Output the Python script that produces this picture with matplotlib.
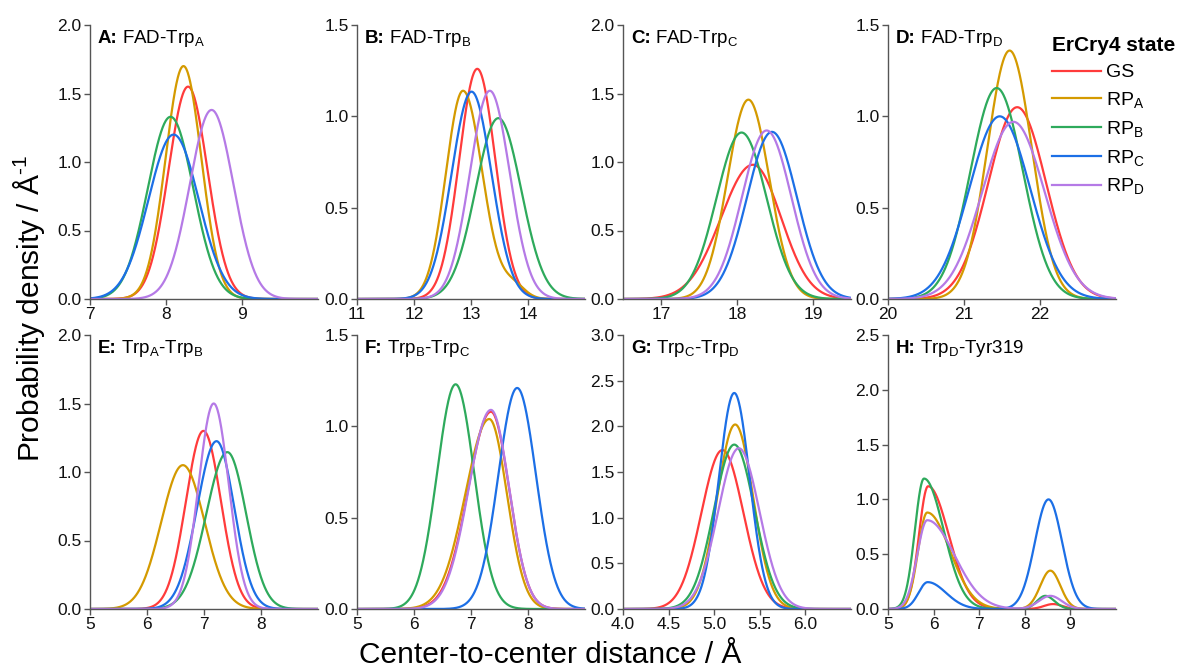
import numpy as np
from matplotlib import pyplot as plt

plt.rcParams["font.family"] = ["Liberation Sans", "DejaVu Sans"]
plt.rcParams["mathtext.fontset"] = "custom"
plt.rcParams["mathtext.rm"] = "Liberation Sans"
plt.rcParams["mathtext.it"] = "Liberation Sans:italic"
plt.rcParams["mathtext.bf"] = "Liberation Sans:bold"

# states and their colours
states = ["GS", "RP_A", "RP_B", "RP_C", "RP_D"]
state_labels = ["GS", r"RP$_\mathrm{A}$", r"RP$_\mathrm{B}$", r"RP$_\mathrm{C}$", r"RP$_\mathrm{D}$"]
colors = ["#FF3B3B", "#D49A00", "#2EAA5C", "#1C6FE6", "#B57AE6"]

# panel letters, titles, axis ranges and ticks
letters = ["A:", "B:", "C:", "D:", "E:", "F:", "G:", "H:"]
titles = [
    r"FAD-Trp$_\mathrm{A}$",
    r"FAD-Trp$_\mathrm{B}$",
    r"FAD-Trp$_\mathrm{C}$",
    r"FAD-Trp$_\mathrm{D}$",
    r"Trp$_\mathrm{A}$-Trp$_\mathrm{B}$",
    r"Trp$_\mathrm{B}$-Trp$_\mathrm{C}$",
    r"Trp$_\mathrm{C}$-Trp$_\mathrm{D}$",
    r"Trp$_\mathrm{D}$-Tyr319",
]
xlims = [(7, 10), (11, 15), (16.5, 19.5), (20, 23), (5, 9), (5, 9), (4.0, 6.5), (5, 10)]
ymaxs = [2.0, 1.5, 2.0, 1.5, 2.0, 1.5, 3.0, 2.5]
xticks = [
    [7, 8, 9],
    [11, 12, 13, 14],
    [17, 18, 19],
    [20, 21, 22],
    [5, 6, 7, 8],
    [5, 6, 7, 8],
    [4.0, 4.5, 5.0, 5.5, 6.0],
    [5, 6, 7, 8, 9],
]
xtick_fmt = ["%d", "%d", "%d", "%d", "%d", "%d", "%.1f", "%d"]

# distance distributions:
# (centre, left width, right width, peak height) for each peak
dist_A = {
    "GS": [(8.29, 0.257, 0.257, 1.55)],
    "RP_A": [(8.23, 0.235, 0.235, 1.70)],
    "RP_B": [(8.06, 0.30, 0.30, 1.33)],
    "RP_C": [(8.10, 0.33, 0.33, 1.20)],
    "RP_D": [(8.60, 0.287, 0.287, 1.38)],
}
dist_B = {
    "GS": [(13.11, 0.317, 0.317, 1.26)],
    "RP_A": [(12.86, 0.30, 0.34, 1.14), (13.75, 0.20, 0.20, 0.07)],
    "RP_B": [(13.48, 0.40, 0.40, 0.99)],
    "RP_C": [(13.01, 0.35, 0.35, 1.135)],
    "RP_D": [(13.33, 0.35, 0.35, 1.14)],
}
dist_C = {
    "GS": [(18.21, 0.42, 0.37, 0.98)],
    "RP_A": [(18.15, 0.275, 0.275, 1.455)],
    "RP_B": [(18.06, 0.33, 0.33, 1.215)],
    "RP_C": [(18.46, 0.33, 0.33, 1.22)],
    "RP_D": [(18.39, 0.325, 0.325, 1.23)],
}
dist_D = {
    "GS": [(21.70, 0.38, 0.38, 1.05)],
    "RP_A": [(21.60, 0.293, 0.293, 1.36)],
    "RP_B": [(21.43, 0.345, 0.345, 1.155)],
    "RP_C": [(21.47, 0.40, 0.40, 1.00)],
    "RP_D": [(21.65, 0.41, 0.41, 0.97)],
}
dist_E = {
    "GS": [(6.99, 0.307, 0.307, 1.30)],
    "RP_A": [(6.63, 0.38, 0.38, 1.05)],
    "RP_B": [(7.41, 0.37, 0.33, 1.145)],
    "RP_C": [(7.22, 0.34, 0.31, 1.225)],
    "RP_D": [(7.17, 0.265, 0.265, 1.50)],
}
dist_F = {
    "GS": [(7.35, 0.40, 0.32, 1.08)],
    "RP_A": [(7.32, 0.42, 0.31, 1.04)],
    "RP_B": [(6.73, 0.325, 0.325, 1.23)],
    "RP_C": [(7.81, 0.33, 0.33, 1.21)],
    "RP_D": [(7.35, 0.39, 0.32, 1.09)],
}
dist_G = {
    "GS": [(5.09, 0.23, 0.23, 1.74)],
    "RP_A": [(5.23, 0.197, 0.197, 2.02)],
    "RP_B": [(5.22, 0.222, 0.222, 1.80)],
    "RP_C": [(5.22, 0.169, 0.169, 2.365)],
    "RP_D": [(5.27, 0.227, 0.227, 1.76)],
}
dist_H = {
    "GS": [(5.88, 0.20, 0.45, 1.12), (8.62, 0.20, 0.20, 0.045)],
    "RP_A": [(5.86, 0.20, 0.50, 0.88), (8.56, 0.22, 0.22, 0.35)],
    "RP_B": [(5.79, 0.20, 0.43, 1.19), (8.45, 0.18, 0.20, 0.12)],
    "RP_C": [(5.87, 0.20, 0.40, 0.245), (8.52, 0.30, 0.30, 1.00)],
    "RP_D": [(5.86, 0.22, 0.60, 0.81), (8.56, 0.25, 0.25, 0.12)],
}
dists = [dist_A, dist_B, dist_C, dist_D, dist_E, dist_F, dist_G, dist_H]


def density(x, peaks):
    y = np.zeros_like(x)
    for mu, sl, sr, h in peaks:
        sd = np.where(x < mu, sl, sr)
        y += h * np.exp(-0.5 * ((x - mu) / sd) ** 2)
    return y


W, H = 1180, 671
fig = plt.figure(figsize=(W / 100, H / 100), dpi=100)

col_left = [90, 357, 623, 888]
row_top = [25, 335]
ax_w, ax_h = 228, 274
spine_col = "#555555"

axes = []
letter_texts = []
for i in range(8):
    r, c = divmod(i, 4)
    ax = fig.add_axes([col_left[c] / W, 1 - (row_top[r] + ax_h) / H, ax_w / W, ax_h / H])
    x = np.linspace(xlims[i][0], xlims[i][1], 800)
    for s, lab, col in zip(states, state_labels, colors):
        ax.plot(x, density(x, dists[i][s]), color=col, lw=1.6, label=lab)
    ax.set_xlim(*xlims[i])
    ax.set_ylim(0, ymaxs[i])
    ax.set_xticks(xticks[i])
    ax.set_xticklabels([xtick_fmt[i] % t for t in xticks[i]])
    yt = np.arange(0, ymaxs[i] + 0.01, 0.5)
    ax.set_yticks(yt)
    ax.set_yticklabels(["%.1f" % t for t in yt])
    for side in ["top", "right"]:
        ax.spines[side].set_visible(False)
    for side in ["left", "bottom"]:
        ax.spines[side].set_color(spine_col)
        ax.spines[side].set_linewidth(1.0)
    ax.tick_params(direction="out", length=4, width=1, color=spine_col,
                   labelsize=12.5, pad=2, labelcolor="#111111")
    t = ax.text(0.035, 0.935, letters[i], transform=ax.transAxes, ha="left",
                va="baseline", fontsize=13.5, fontweight="bold")
    letter_texts.append(t)
    axes.append(ax)

# put the rest of each panel title right after the bold letter
fig.canvas.draw()
renderer = fig.canvas.get_renderer()
for ax, t, title in zip(axes, letter_texts, titles):
    bb = t.get_window_extent(renderer)
    xa = ax.transAxes.inverted().transform((bb.x1 + 4, 0))[0]
    ax.text(xa, 0.935, title, transform=ax.transAxes, ha="left", va="baseline",
            fontsize=13.5)

handles, labels = axes[3].get_legend_handles_labels()
leg = fig.legend(handles, labels, title="ErCry4 state", loc="upper left",
                 bbox_to_anchor=(1052 / W, 1 - 36 / H), frameon=False,
                 fontsize=14, title_fontproperties={"weight": "bold", "size": 15},
                 handlelength=2.5, handletextpad=0.3, labelspacing=0.45,
                 borderpad=0, borderaxespad=0, alignment="left")

fig.text(0.025, 0.54, r"Probability density / Å$^{\text{-1}}$", rotation=90,
         ha="center", va="center", fontsize=21.5)
fig.text(0.466, 0.024, "Center-to-center distance / Å", ha="center", va="center",
         fontsize=21.5)

fig.savefig("out.png", dpi=100)
